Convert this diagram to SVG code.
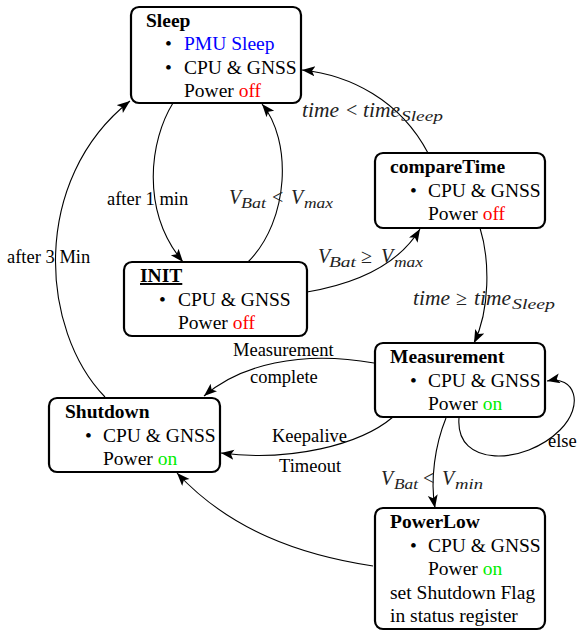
<svg xmlns="http://www.w3.org/2000/svg" width="577" height="631" viewBox="0 0 577 631">
<defs>
<marker id="arr" markerUnits="userSpaceOnUse" markerWidth="14" markerHeight="12" refX="13" refY="5" orient="auto">
<path d="M0,0 L13,5 L0,10 L3,5 z" fill="#000"/>
</marker>
<style>
.box{fill:#fff;stroke:#000;stroke-width:2.2}
.t{font-family:"Liberation Serif","Times New Roman",serif;font-size:19.5px;fill:#000}
.b{font-weight:bold}
.m{font-family:"Liberation Serif","Times New Roman",serif;font-size:20px;font-style:italic;fill:#222}
.s{font-size:14px}
.r{font-style:normal}
.e{fill:none;stroke:#000;stroke-width:1.1;marker-end:url(#arr)}
.lbl{font-family:"Liberation Serif","Times New Roman",serif;font-size:18.5px;fill:#000}
.red{fill:#ff0000}.grn{fill:#00ee00}.blu{fill:#0000ff}
</style>
</defs>
<rect width="577" height="631" fill="#fff"/>
<g id="connectors">
<path class="e" d="M173,103 C150,140 140,210 183,262"/>
<path class="e" d="M248,262 C290,220 292,140 262,104"/>
<path class="e" d="M307,292 C360,283 400,262 420,229"/>
<path class="e" d="M428,153 C400,100 350,75 302,70"/>
<path class="e" d="M480,228 C490,260 490,310 474,343"/>
<path class="e" d="M374,363 C300,350 240,365 204,396"/>
<path class="e" d="M393,417 C360,445 290,462 221,453"/>
<path class="e" d="M459,418 C455,468 525,465 560,430 C585,405 575,375 547,381"/>
<path class="e" d="M446,418 C435,445 430,480 435,508"/>
<path class="e" d="M373,566 C300,555 230,530 177,473"/>
<path class="e" d="M105,397 C40,330 30,180 130,101"/>
</g>
<g id="edge-labels">
<text class="lbl" x="107" y="205">after 1 min</text>
<text class="lbl" x="7" y="263">after 3 Min</text>
<text class="lbl" x="233" y="356">Measurement</text>
<text class="lbl" x="250" y="383">complete</text>
<text class="lbl" x="272" y="442">Keepalive</text>
<text class="lbl" x="279" y="472">Timeout</text>
<text class="lbl" x="548" y="447">else</text>
<text class="m" y="117"><tspan x="302" textLength="37" lengthAdjust="spacingAndGlyphs">time</tspan><tspan class="r" x="346">&lt;</tspan><tspan x="363" textLength="37" lengthAdjust="spacingAndGlyphs">time</tspan><tspan class="s" x="401" dy="4" textLength="42" lengthAdjust="spacingAndGlyphs">Sleep</tspan></text>
<text class="m" y="204"><tspan x="229">V</tspan><tspan class="s" x="241" dy="4" textLength="25" lengthAdjust="spacingAndGlyphs">Bat</tspan><tspan class="r" x="272" dy="-4">&lt;</tspan><tspan x="291">V</tspan><tspan class="s" x="304" dy="4" textLength="29" lengthAdjust="spacingAndGlyphs">max</tspan></text>
<text class="m" y="263"><tspan x="318">V</tspan><tspan class="s" x="329" dy="4" textLength="27" lengthAdjust="spacingAndGlyphs">Bat</tspan><tspan class="r" x="361" dy="-4">≥</tspan><tspan x="381">V</tspan><tspan class="s" x="394" dy="4" textLength="29" lengthAdjust="spacingAndGlyphs">max</tspan></text>
<text class="m" y="305"><tspan x="413" textLength="37" lengthAdjust="spacingAndGlyphs">time</tspan><tspan class="r" x="456">≥</tspan><tspan x="474" textLength="37" lengthAdjust="spacingAndGlyphs">time</tspan><tspan class="s" x="512" dy="4" textLength="43" lengthAdjust="spacingAndGlyphs">Sleep</tspan></text>
<text class="m" y="485"><tspan x="381">V</tspan><tspan class="s" x="394" dy="4" textLength="24" lengthAdjust="spacingAndGlyphs">Bat</tspan><tspan class="r" x="423" dy="-4">&lt;</tspan><tspan x="442">V</tspan><tspan class="s" x="455" dy="4" textLength="28" lengthAdjust="spacingAndGlyphs">min</tspan></text>
</g>
<g id="node-sleep">
<rect class="box" x="131" y="7" width="170" height="96" rx="8"/>
<text class="t b" x="146" y="27">Sleep</text>
<text class="t" x="165" y="50">•</text><text class="t blu" x="184" y="50">PMU Sleep</text>
<text class="t" x="165" y="74">•</text><text class="t" x="184" y="74">CPU &amp; GNSS</text>
<text class="t" x="184" y="97">Power <tspan class="red">off</tspan></text>
</g>
<g id="node-comparetime">
<rect class="box" x="375" y="153" width="170" height="75" rx="8"/>
<text class="t b" x="390" y="173">compareTime</text>
<text class="t" x="410" y="197">•</text><text class="t" x="428" y="197">CPU &amp; GNSS</text>
<text class="t" x="428" y="220">Power <tspan class="red">off</tspan></text>
</g>
<g id="node-init">
<rect class="box" x="124" y="262" width="183" height="74" rx="8"/>
<text class="t b" x="140" y="282" text-decoration="underline">INIT</text>
<text class="t" x="159" y="306">•</text><text class="t" x="178" y="306">CPU &amp; GNSS</text>
<text class="t" x="178" y="329">Power <tspan class="red">off</tspan></text>
</g>
<g id="node-measurement">
<rect class="box" x="375" y="343" width="170" height="74" rx="8"/>
<text class="t b" x="390" y="363">Measurement</text>
<text class="t" x="410" y="387">•</text><text class="t" x="428" y="387">CPU &amp; GNSS</text>
<text class="t" x="428" y="410">Power <tspan class="grn">on</tspan></text>
</g>
<g id="node-shutdown">
<rect class="box" x="49" y="398" width="171" height="74" rx="8"/>
<text class="t b" x="65" y="418">Shutdown</text>
<text class="t" x="85" y="442">•</text><text class="t" x="103" y="442">CPU &amp; GNSS</text>
<text class="t" x="103" y="465">Power <tspan class="grn">on</tspan></text>
</g>
<g id="node-powerlow">
<rect class="box" x="375" y="508" width="170" height="121" rx="8"/>
<text class="t b" x="390" y="528">PowerLow</text>
<text class="t" x="410" y="552">•</text><text class="t" x="428" y="552">CPU &amp; GNSS</text>
<text class="t" x="428" y="575">Power <tspan class="grn">on</tspan></text>
<text class="t" x="390" y="599">set Shutdown Flag</text>
<text class="t" x="390" y="622">in status register</text>
</g>
</svg>
